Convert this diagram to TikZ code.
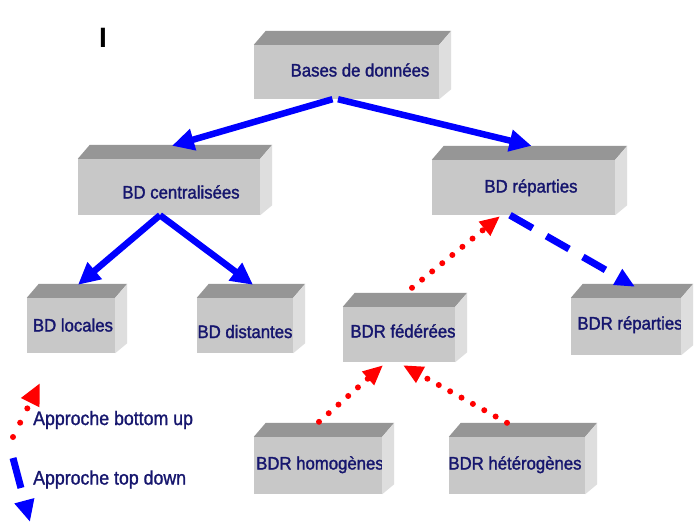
\documentclass[tikz,border=0pt]{standalone}
\usepackage{fontspec}
\setmainfont{Liberation Sans}
\newfontfamily\boxfont[FakeStretch=0.93,FakeBold=1.6]{Liberation Sans}
\newfontfamily\legfont[FakeStretch=0.91,FakeBold=1.2]{Liberation Sans}
\usetikzlibrary{arrows.meta,calc}
\definecolor{frontc}{HTML}{C8C8C8}
\definecolor{topc}{HTML}{969696}
\definecolor{sidec}{HTML}{DEDEDE}
\definecolor{txtc}{HTML}{16166E}
\definecolor{arblue}{HTML}{0000FF}
\definecolor{arred}{HTML}{FF0000}
\begin{document}
\begin{tikzpicture}[x=1pt,y=-1pt,
  box3d/.style={fill=frontc, draw=none, inner sep=0pt},
  lab/.style={font=\boxfont\fontsize{18}{20}\selectfont, text=txtc, text height=13pt, text depth=0pt, inner sep=0pt},
  legtxt/.style={font=\legfont\fontsize{19.5}{22}\selectfont, text=txtc, text height=14pt, text depth=0pt, inner sep=0pt, anchor=west},
  solidar/.style={draw=arblue, line width=6.5pt, -{Triangle[length=22pt,width=21pt]}},
  redot/.style={draw=arred, line width=6pt, line cap=round, dash pattern=on 0pt off 13pt, -{Triangle[length=20pt,width=17pt]}},
  bdash/.style={draw=arblue, line width=7pt, dash pattern=on 26pt off 16pt, -{Triangle[length=20pt,width=17pt]}}
]
\useasboundingbox (0,0) rectangle (700,525);
\fill[white] (0,0) rectangle (700,525);

% boxes (front faces)
\node[box3d, minimum width=185pt, minimum height=54pt, label={[lab,xshift=13.5pt,yshift=2pt]center:Bases de données}] (bases) at (346.5,72) {};
\node[box3d, minimum width=182pt, minimum height=56pt, label={[lab,xshift=12pt,yshift=-5pt]center:BD centralisées}] (central) at (169,187) {};
\node[box3d, minimum width=183pt, minimum height=55pt, label={[lab,xshift=7.5pt,yshift=1.5pt]center:BD réparties}] (repart) at (523.5,187.5) {};
\node[box3d, minimum width=88pt, minimum height=55pt, label={[lab,xshift=2pt,yshift=0.5pt]center:BD locales}] (locales) at (71,325.5) {};
\node[box3d, minimum width=96pt, minimum height=55pt, label={[lab,xshift=0pt,yshift=-6pt]center:BD distantes}] (distantes) at (245,325.5) {};
\node[box3d, minimum width=112pt, minimum height=55pt, label={[lab,xshift=4pt,yshift=3.5pt]center:BDR fédérées}] (federees) at (399,334.5) {};
\node[box3d, minimum width=110pt, minimum height=57pt, label={[lab,xshift=4pt,yshift=3.5pt]center:BDR réparties}] (rrepart) at (626,326.5) {};
\node[box3d, minimum width=128pt, minimum height=57pt, label={[lab,xshift=2pt,yshift=2.5pt]center:BDR homogènes}] (homog) at (318,465.5) {};
\node[box3d, minimum width=136pt, minimum height=57pt, label={[lab,xshift=-2pt,yshift=2.5pt]center:BDR hétérogènes}] (hetero) at (517,465.5) {};

% top and side faces
\foreach \n in {bases,central,repart,locales,distantes,federees,rrepart,homog,hetero}{
  \fill[topc] (\n.north west) -- ($(\n.north west)+(12,-14)$) -- ($(\n.north east)+(12,-14)$) -- (\n.north east) -- cycle;
  \fill[sidec] (\n.north east) -- ($(\n.north east)+(12,-14)$) -- ($(\n.south east)+(12,-10)$) -- (\n.south east) -- cycle;
}

% connectors
\draw[solidar] ([xshift=-14pt]bases.south) -- ([xshift=3pt,yshift=13pt]central.north);
\draw[solidar] ([xshift=-8.5pt]bases.south) -- ([xshift=8pt,yshift=14pt]repart.north);
\draw[solidar] ([xshift=-9pt]central.south) -- ([xshift=7pt,yshift=13pt]locales.north);
\draw[solidar] ([xshift=-9pt]central.south) -- ([xshift=8pt,yshift=13pt]distantes.north);
\draw[redot] ([xshift=13pt,yshift=19pt]federees.north) -- ([xshift=-23.5pt,yshift=-1pt]repart.south);
\draw[bdash] ([xshift=-13.5pt]repart.south) -- ([xshift=9pt,yshift=11pt]rrepart.north);
\draw[redot] ([xshift=1pt,yshift=15pt]homog.north) -- ([xshift=-16pt,yshift=-3pt]federees.south);
\draw[redot] ([xshift=-10pt,yshift=14pt]hetero.north) -- ([xshift=4pt,yshift=-3pt]federees.south);

% legend
\coordinate (lr1) at (13,437);
\coordinate (lr2) at (40,383);
\coordinate (lb1) at (13,458);
\coordinate (lb2) at (30,522);
\draw[redot, dash pattern=on 0pt off 16pt, -{Triangle[length=22pt,width=19pt]}] (lr1) -- (lr2);
\draw[bdash, dash pattern=on 31pt off 30pt, -{Triangle[length=22pt,width=19pt]}] (lb1) -- (lb2);
\node[legtxt] (lbu) at (33,418) {Approche bottom up};
\node[legtxt] (ltd) at (33,477.5) {Approche top down};

% cursor mark
\node[font=\bfseries\fontsize{28}{30}\selectfont, text height=20pt, text depth=0pt, inner sep=0pt] (cursor) at (103,37.5) {I};
\end{tikzpicture}
\end{document}
